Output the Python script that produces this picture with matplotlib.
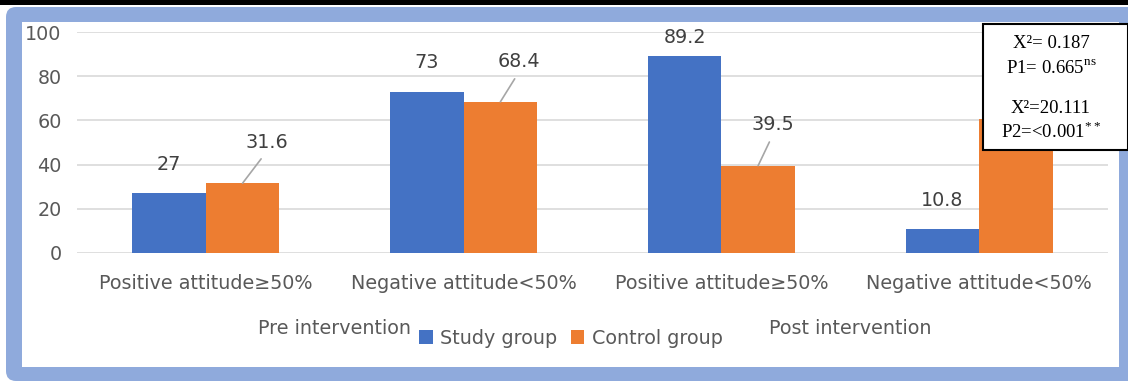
import numpy as np
import matplotlib
matplotlib.use('Agg')
import matplotlib.pyplot as plt
from matplotlib.patches import Rectangle, FancyBboxPatch

plt.rcParams['font.family'] = ['DejaVu Sans']
plt.rcParams['mathtext.fontset'] = 'custom'
plt.rcParams['mathtext.rm'] = 'Liberation Serif'

# data
categories = ['Positive attitude≥50%', 'Negative attitude<50%',
              'Positive attitude≥50%', 'Negative attitude<50%']
phases = ['Pre intervention', 'Post intervention']
study = [27, 73, 89.2, 10.8]
control = [31.6, 68.4, 39.5, 60.5]
stats_lines = ['X²= 0.187', r'P1= 0.665$^{\rm ns}$', 'X²=20.111', r'P2=<0.001$^{**}$']

W, H = 1128, 383
FS = 13.8
fig = plt.figure(figsize=(W / 100, H / 100), dpi=100)
fig.patch.set_facecolor('white')
px = fig.dpi_scale_trans

def pix(x, y):
    # top-left pixel coords -> inches
    return x / 100, (H - y) / 100

# frame: black strip, blue rounded border, white inside
fig.patches.append(Rectangle(pix(0, 5), W / 100, 0.06, transform=px,
                             facecolor='black', edgecolor='none', zorder=-10))
fig.patches.append(FancyBboxPatch(pix(6, 381), (1140 - 6) / 100, (381 - 7) / 100,
                                  boxstyle='round,pad=0,rounding_size=0.1',
                                  transform=px, facecolor='#8FAADC',
                                  edgecolor='none', zorder=-9))
fig.patches.append(Rectangle(pix(22, 367), (1119 - 22) / 100, (367 - 22) / 100,
                             transform=px, facecolor='white', edgecolor='none',
                             zorder=-8))

ax = fig.add_axes([77 / W, 1 - 253 / H, (1108 - 77) / W, (253 - 32) / H])
ax.set_facecolor('none')
ax.set_zorder(1)

x = np.arange(len(categories))
bw = 0.285
b1 = ax.bar(x - bw / 2, study, bw, color='#4472C4', label='Study group', zorder=3)
b2 = ax.bar(x + bw / 2, control, bw, color='#ED7D31', label='Control group', zorder=3)

ax.set_xlim(-0.5, 3.5)
ax.set_ylim(0, 100)
ax.set_yticks(np.arange(0, 101, 20))
ax.yaxis.grid(True, color='#D9D9D9', linewidth=1.2, zorder=0)
for s in ax.spines.values():
    s.set_visible(False)
ax.tick_params(length=0, colors='#595959', labelsize=FS)
ax.tick_params(axis='y', pad=11)
ax.tick_params(axis='x', pad=15)
ax.set_xticks(x)
ax.set_xticklabels(categories)

txt = dict(ha='center', va='center', fontsize=FS, color='#404040',
           textcoords='offset pixels')
# study labels
for i, v in enumerate(study):
    dy = 18 if v > 85 else 29
    ax.annotate(f'{v:g}', (x[i] - bw / 2, v), xytext=(0, dy), **txt)
# control labels with leader lines (last one sits behind the stats box)
leader = [(24, 41), (19, 40), (15, 41), (0, 29)]
for i, v in enumerate(control):
    dx, dy = leader[i]
    ax.annotate(f'{v:g}', (x[i] + bw / 2, v), xytext=(dx, dy),
                arrowprops=dict(arrowstyle='-', color='#A6A6A6', lw=1.2,
                                shrinkA=4, shrinkB=0, relpos=(0.5, 0.0)),
                **txt)

# phase labels
for j, p in enumerate(phases):
    fig.text((77 + (2 * j + 0.5 + 0.5) * 257.75) / W, 1 - 328 / H, p,
             ha='center', va='center', fontsize=FS, color='#595959')

fig.legend(handles=[b1, b2], loc='center', bbox_to_anchor=(571 / W, 1 - 338 / H),
           ncol=2, frameon=False, fontsize=FS, handlelength=0.7,
           handleheight=0.7, handletextpad=0.4, columnspacing=0.7,
           labelcolor='#595959')

# stats box
box = Rectangle(pix(983, 150), (1128 - 983) / 100, (150 - 24) / 100, transform=px,
                facecolor='white', edgecolor='black', linewidth=1.5, zorder=10)
fig.patches.append(box)
for yy, s in zip([43, 68, 108, 132], stats_lines):
    fig.text(1051 / W, 1 - yy / H, s, ha='center', va='center', fontsize=13.5,
             family='Liberation Serif', color='black', zorder=11)

fig.savefig('out.png', dpi=100)
